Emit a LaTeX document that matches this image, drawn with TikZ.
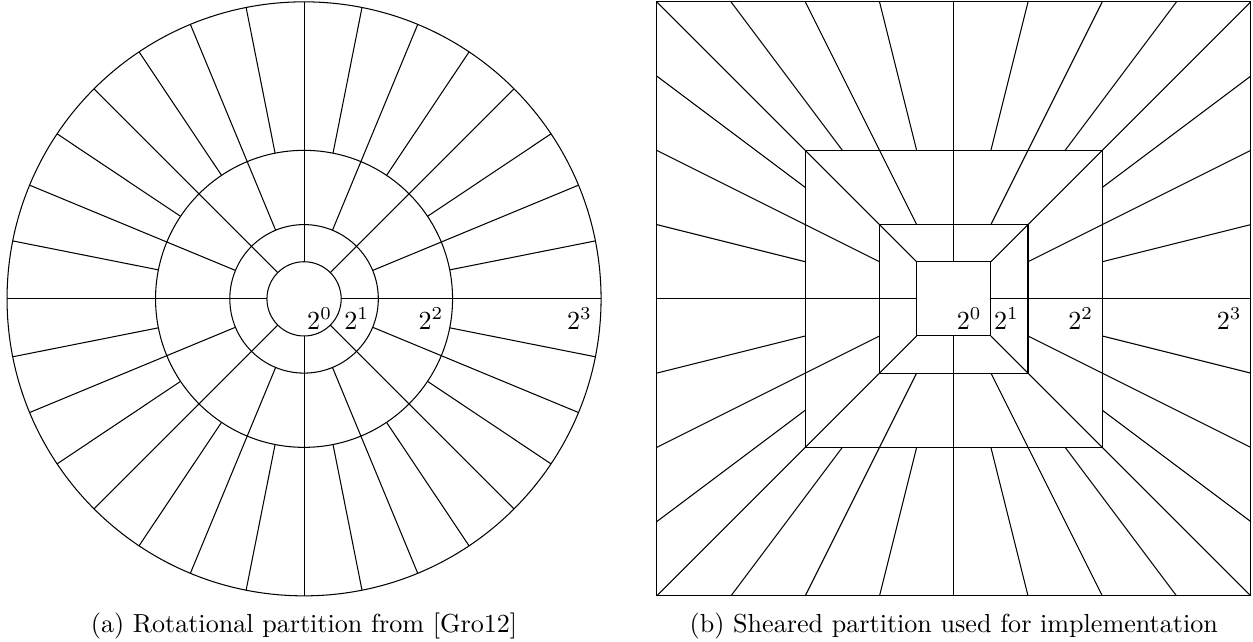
\documentclass[tikz,border=0pt]{standalone}
\usepackage{amsmath}

\begin{document}
\begin{tikzpicture}[x=0.5cm, y=0.5cm, lbl/.style={anchor=north east}, caption/.style={anchor=base}]
\useasboundingbox (-8.19,-9.24) rectangle (25.56,8.05);
% rotational partition
\foreach \r/\n in {1/8, 2/16, 4/32}
  \foreach \k in {1,...,\n}
    \draw (\k*360/\n:\r) -- (\k*360/\n:2*\r);
\foreach \r in {1,2,4,8}
  \draw (0,0) circle (\r);
\foreach \e in {0,...,3}
  \node[lbl] (rot\e) at ({2^\e},0) {\(2^{\e}\)};
\node[caption] (capa) at (0,-9) {(a) Rotational partition from [Gro12]};
% sheared partition
\begin{scope}[shift={(17.5,0)}]
  \foreach \a in {0,90,180,270}
    \foreach \h/\n in {1/2, 2/4, 4/8}
      \foreach \k in {1,...,\n}
        \draw[rotate=\a] (\h,\k-\h) -- (2*\h,2*\k-2*\h);
  \foreach \h in {1,2,4,8}
    \draw (-\h,-\h) rectangle (\h,\h);
  \foreach \e in {0,...,3}
    \node[lbl] (she\e) at ({2^\e},0) {\(2^{\e}\)};
  \node[caption] (capb) at (0,-9) {(b) Sheared partition used for implementation};
\end{scope}
\end{tikzpicture}
\end{document}
